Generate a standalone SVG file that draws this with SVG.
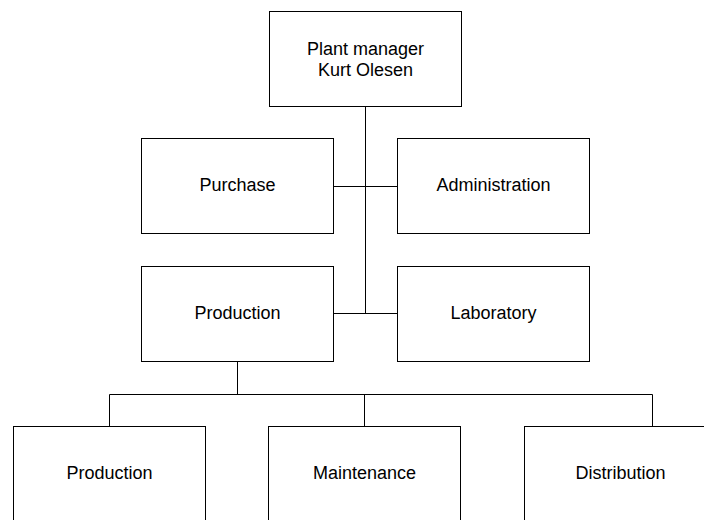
<svg xmlns="http://www.w3.org/2000/svg" width="704" height="520" viewBox="0 0 704 520">
<style>
.box{fill:#fff;stroke:#000;stroke-width:1}
.lbl{font-family:"Liberation Sans",Arial,sans-serif;font-size:18px;fill:#000;text-anchor:middle}
.con{fill:none;stroke:#000;stroke-width:1}
</style>
<rect width="704" height="520" fill="#fff"/>
<g id="connectors">
<path class="con" d="M365.5 106.5V313.5"/>
<path class="con" d="M333.5 186.5H397.5"/>
<path class="con" d="M333.5 313.5H397.5"/>
<path class="con" d="M237.5 361.5V394.5"/>
<path class="con" d="M109.5 426.5V394.5H652.5V426.5"/>
<path class="con" d="M364.5 394.5V426.5"/>
</g>
<g id="plant-manager">
<rect class="box" x="269.5" y="11.5" width="192" height="95"/>
<text class="lbl" x="365.5" y="55">Plant manager</text>
<text class="lbl" x="365.5" y="76">Kurt Olesen</text>
</g>
<g id="purchase">
<rect class="box" x="141.5" y="138.5" width="192" height="95"/>
<text class="lbl" x="237.5" y="191">Purchase</text>
</g>
<g id="administration">
<rect class="box" x="397.5" y="138.5" width="192" height="95"/>
<text class="lbl" x="493.5" y="191">Administration</text>
</g>
<g id="production-dept">
<rect class="box" x="141.5" y="266.5" width="192" height="95"/>
<text class="lbl" x="237.5" y="319">Production</text>
</g>
<g id="laboratory">
<rect class="box" x="397.5" y="266.5" width="192" height="95"/>
<text class="lbl" x="493.5" y="319">Laboratory</text>
</g>
<g id="production">
<rect class="box" x="13.5" y="426.5" width="192" height="95"/>
<text class="lbl" x="109.5" y="479">Production</text>
</g>
<g id="maintenance">
<rect class="box" x="268.5" y="426.5" width="192" height="95"/>
<text class="lbl" x="364.5" y="479">Maintenance</text>
</g>
<g id="distribution">
<rect class="box" x="524.5" y="426.5" width="192" height="95"/>
<text class="lbl" x="620.5" y="479">Distribution</text>
</g>
</svg>
